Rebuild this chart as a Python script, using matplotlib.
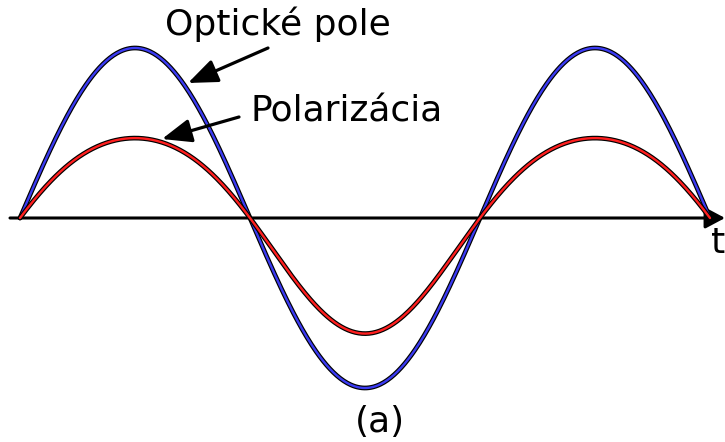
import matplotlib.pyplot as plt
import matplotlib.patheffects as pe
import numpy as np

# time in periods of the optical field, amplitudes normalised to the field peak
t_end = 1.5
field_peak = 1.0
pol_peak = 0.47
pol_trough = -0.68

label_field = "Optické pole"
label_pol = "Polarizácia"
label_t = "t"
label_panel = "(a)"

W, H = 725, 442

# P = a*E + b*E^2 fitted to the positive and negative polarization peaks
a = (pol_peak - pol_trough) / 2
b = (pol_peak + pol_trough) / 2

t = np.linspace(0, t_end, 600)
E = field_peak * np.sin(2 * np.pi * t)
P = a * E + b * E ** 2

plt.rcParams["font.family"] = ["DejaVu Sans"]

fig = plt.figure(figsize=(W / 100, H / 100), dpi=100)
ax = fig.add_axes([0, 0, 1, 1])
ax.set_xlim(-20 / 460, 705 / 460)
ax.set_ylim(-(H - 218) / 170, 218 / 170)
ax.axis("off")


def px(x, y):
    # pixel position (from top left) -> axes fraction
    return x / W, 1 - y / H


outline = [pe.Stroke(linewidth=3.4, foreground="black"), pe.Normal()]
ax.plot(t, E, color="#3b3bf2", lw=1.7, path_effects=outline, zorder=3,
        solid_capstyle="round")
ax.plot(t, P, color="#ff1f1f", lw=1.7, path_effects=outline, zorder=4,
        solid_capstyle="round")

# time axis with arrow head
ax.annotate("", xy=px(725, 218), xytext=px(10, 218),
            xycoords="axes fraction", textcoords="axes fraction",
            arrowprops=dict(arrowstyle="-|>,head_length=0.6,head_width=0.32",
                            lw=2.2, color="black", mutation_scale=20,
                            shrinkA=0, shrinkB=0), zorder=2)

fs = 26
ax.text(*px(711, 253), label_t, transform=ax.transAxes, fontsize=fs,
        ha="left", va="baseline")

ax.text(*px(165, 35), label_field, transform=ax.transAxes, fontsize=fs,
        ha="left", va="baseline")
ax.text(*px(251, 122), label_pol, transform=ax.transAxes, fontsize=fs,
        ha="left", va="baseline")
ax.text(*px(380, 432), label_panel, transform=ax.transAxes, fontsize=fs,
        ha="center", va="baseline")

head = "-|>,head_length=0.9,head_width=0.36"
ax.annotate("", xy=px(188, 83), xytext=px(268, 48),
            xycoords="axes fraction", textcoords="axes fraction",
            arrowprops=dict(arrowstyle=head, lw=2.3, color="black",
                            mutation_scale=20, shrinkA=0, shrinkB=0))
ax.annotate("", xy=px(162, 139), xytext=px(239, 117),
            xycoords="axes fraction", textcoords="axes fraction",
            arrowprops=dict(arrowstyle=head, lw=2.3, color="black",
                            mutation_scale=20, shrinkA=0, shrinkB=0))

fig.savefig("out.png", dpi=100)
